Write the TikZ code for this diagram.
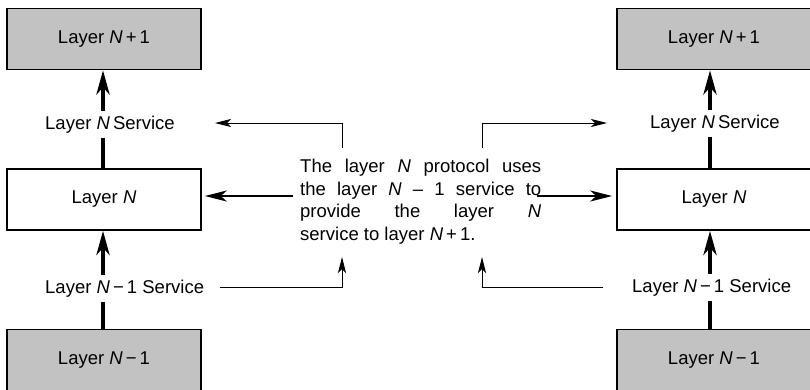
\documentclass[tikz,border=0pt]{standalone}
\usepackage{fontspec}
\setmainfont{Liberation Sans}
\usetikzlibrary{arrows.meta}

\newcommand{\Nv}{\textit{N}}
\newcommand{\labelfont}{\fontsize{18.5}{22.5}\selectfont}

\begin{document}
\begin{tikzpicture}[x=1pt, y=-1pt,
  layerbox/.style={draw, line width=1.6pt, minimum width=194pt,
    minimum height=61pt, inner sep=0pt, font=\labelfont},
  shadedbox/.style={layerbox, fill=black!24},
  plainbox/.style={layerbox, fill=white},
  servicelabel/.style={fill=white, inner xsep=3pt, inner ysep=5pt,
    anchor=base west, font=\labelfont},
  serviceflow/.style={line width=4.5pt,
    -{Stealth[length=24pt, width=13pt, inset=7pt]}},
  pointer/.style={line width=0.9pt,
    -{Stealth[length=16pt, width=8pt, inset=4pt]}},
  usesarrow/.style={line width=1.8pt,
    -{Stealth[length=22pt, width=11pt, inset=6pt]}}
]
\useasboundingbox (0,0) rectangle (810,389);

% left stack
\node[shadedbox] (lTop) at (104,39)    {Layer \Nv\,+\,1};
\node[plainbox]  (lMid) at (104,199.5) {Layer \Nv};
\node[shadedbox] (lBot) at (104,360)   {Layer \Nv\,−\,1};

% right stack
\node[shadedbox] (rTop) at (714,39)    {Layer \Nv\,+\,1};
\node[plainbox]  (rMid) at (714,199.5) {Layer \Nv};
\node[shadedbox] (rBot) at (714,360)   {Layer \Nv\,−\,1};

% services flowing upwards
\draw[serviceflow] ([xshift=-1pt]lMid.north) -- ([xshift=-1pt]lTop.south);
\draw[serviceflow] ([xshift=-1pt]lBot.north) -- ([xshift=-1pt]lMid.south);
\draw[serviceflow] ([xshift=-4pt]rMid.north) -- ([xshift=-4pt]rTop.south);
\draw[serviceflow] ([xshift=-4pt]rBot.north) -- ([xshift=-4pt]rMid.south);

% service labels sit over the flow lines
\node[servicelabel] (lUp)   at (42,129)  {Layer \Nv\,Service};
\node[servicelabel] (lDown) at (42,293)  {Layer \Nv\,−\,1 Service};
\node[servicelabel] (rUp)   at (647,128) {Layer \Nv\,Service};
\node[servicelabel] (rDown) at (629,292) {Layer \Nv\,−\,1 Service};

% explanatory paragraph
\node[anchor=north west, inner sep=0pt, align=left, font=\labelfont]
  (note) at (300,159) {%
  \makebox[241pt][s]{The layer \Nv{} protocol uses}\\
  \makebox[241pt][s]{the layer \Nv{} – 1 service to}\\
  \makebox[241pt][s]{provide the layer \Nv}\\
  service to layer \Nv\,+\,1.};

% bracket pointers between labels and paragraph
\coordinate (pTL) at (342,148);
\coordinate (pTR) at (482,148);
\coordinate (pBL) at (220,287);
\coordinate (pBR) at (603,287);
\coordinate (tipTL) at (215,123);
\coordinate (tipTR) at (607,123);
\coordinate (tipBL) at (342,257);
\coordinate (tipBR) at (482,257);

\draw[pointer] (pTL) |- (tipTL);
\draw[pointer] (pTR) |- (tipTR);
\draw[pointer] (pBL) -| (tipBL);
\draw[pointer] (pBR) -| (tipBR);

% the protocol uses both neighbouring layer N entities
\coordinate (uL) at (293,196);
\coordinate (uR) at (537,196);
\draw[usesarrow, shorten >=3pt] (uL) -- (lMid.east |- uL);
\draw[usesarrow, shorten >=4pt] (uR) -- (rMid.west |- uR);
\end{tikzpicture}
\end{document}
